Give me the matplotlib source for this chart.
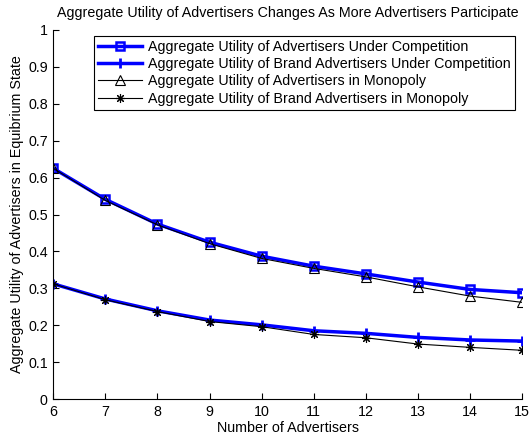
import matplotlib
matplotlib.use("Agg")
import matplotlib.pyplot as plt

plt.rcParams['font.family'] = ['Liberation Sans', 'DejaVu Sans']

# Données
advertisers = [6, 7, 8, 9, 10, 11, 12, 13, 14, 15]
competition = [0.625, 0.541, 0.474, 0.425, 0.387, 0.360, 0.339, 0.317, 0.297, 0.288]
brand_competition = [0.312, 0.271, 0.239, 0.214, 0.201, 0.185, 0.178, 0.167, 0.160, 0.157]
monopoly = [0.625, 0.538, 0.472, 0.421, 0.381, 0.354, 0.331, 0.304, 0.279, 0.262]
brand_monopoly = [0.312, 0.269, 0.237, 0.210, 0.196, 0.175, 0.166, 0.149, 0.140, 0.132]

fs = 10.3

fig = plt.figure(figsize=(5.29, 4.41), dpi=100)
ax = fig.add_axes([0.1008, 0.0952, 0.8860, 0.8368])

ax.plot(advertisers, competition, color="blue", lw=2.5, marker="s", ms=5.5,
        mfc="none", mec="blue", mew=1.8,
        label="Aggregate Utility of Advertisers Under Competition")
ax.plot(advertisers, brand_competition, color="blue", lw=2.5, marker="+", ms=7,
        mec="blue", mew=2.0,
        label="Aggregate Utility of Brand Advertisers Under Competition")
ax.plot(advertisers, monopoly, color="black", lw=0.8, marker="^", ms=6.8,
        mfc="none", mec="black", mew=0.8,
        label="Aggregate Utility of Advertisers in Monopoly")
ax.plot(advertisers, brand_monopoly, color="black", lw=0.8, marker=(8, 2, 0), ms=6.5,
        mec="black", mew=0.8,
        label="Aggregate Utility of Brand Advertisers in Monopoly")

ax.set_xlim(6, 15)
ax.set_ylim(0, 1)
ax.set_xticks(range(6, 16))
ax.set_yticks([0, 0.1, 0.2, 0.3, 0.4, 0.5, 0.6, 0.7, 0.8, 0.9, 1])
ax.set_yticklabels(["0", "0.1", "0.2", "0.3", "0.4", "0.5", "0.6", "0.7", "0.8", "0.9", "1"])
ax.spines["top"].set_visible(False)
ax.spines["right"].set_visible(False)
ax.tick_params(direction="in", length=4, labelsize=fs, pad=4)
for s in ax.spines.values():
    s.set_linewidth(0.8)

ax.set_title("Aggregate Utility of Advertisers Changes As More Advertisers Participate",
             fontsize=fs, pad=9)
ax.set_xlabel("Number of Advertisers", fontsize=fs, labelpad=2)
ax.set_ylabel("Aggregate Utility of Advertisers in Equibrium State", fontsize=fs, labelpad=3)

leg = ax.legend(loc="upper right", bbox_to_anchor=(0.985, 0.984), borderaxespad=0,
                fontsize=fs, handlelength=3.1, labelspacing=0.22, fancybox=False,
                framealpha=1, edgecolor="black", borderpad=0.3, handletextpad=0.4)
leg.get_frame().set_linewidth(0.8)

fig.savefig("out.png", dpi=100)
